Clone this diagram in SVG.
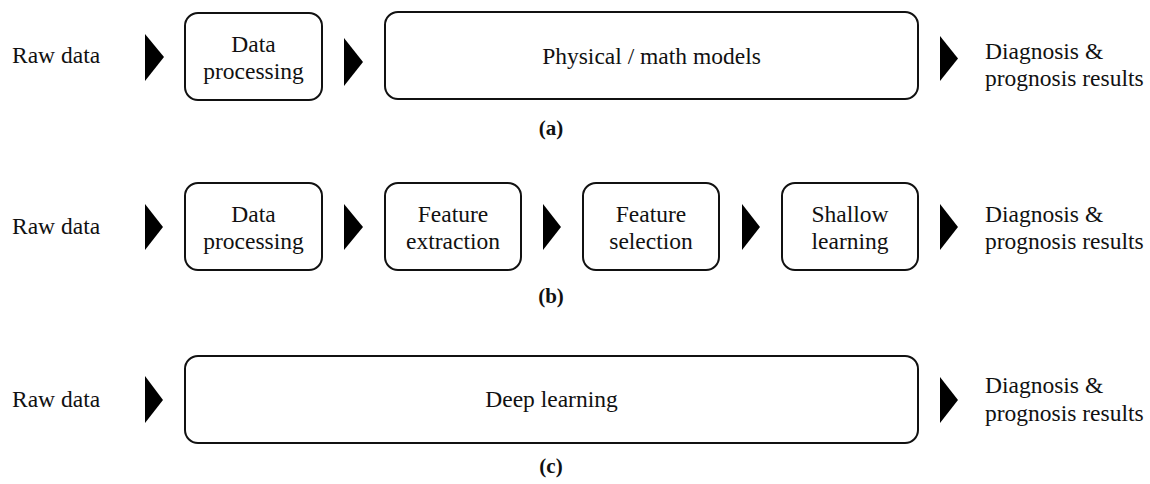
<svg xmlns="http://www.w3.org/2000/svg" width="1150" height="484" viewBox="0 0 1150 484" font-family="Liberation Serif, Tinos, Times New Roman, DejaVu Serif, serif">
<defs>
<style>
.t{font-size:23.5px;fill:#111}
.c{text-anchor:middle}
.lbl{font-size:21px;font-weight:bold;fill:#111;text-anchor:middle}
.box{fill:#fff;stroke:#111;stroke-width:2}
.arr{fill:#000}
</style>
</defs>
<rect width="1150" height="484" fill="#fff"/>

<!-- Row (a) -->
<g id="a-raw"><text class="t" x="12" y="63" font-family="Liberation Serif, serif">Raw data</text></g>
<g id="a-dp"><rect class="box" x="185" y="13" width="137" height="87" rx="13"/><text class="t c" x="253.5" y="52">Data</text><text class="t c" x="253.5" y="79">processing</text></g>
<g id="a-model"><rect class="box" x="385" y="12" width="533" height="87" rx="13"/><text class="t c" x="651.5" y="64">Physical / math models</text></g>
<g id="a-out"><text class="t" x="985" y="59">Diagnosis &amp;</text><text class="t" x="985" y="86">prognosis results</text></g>
<text class="lbl" x="551" y="135">(a)</text>

<!-- Row (b) -->
<g id="b-raw"><text class="t" x="12" y="234">Raw data</text></g>
<g id="b-dp"><rect class="box" x="185" y="183" width="137" height="87" rx="13"/><text class="t c" x="253.5" y="222">Data</text><text class="t c" x="253.5" y="249">processing</text></g>
<g id="b-fe"><rect class="box" x="385" y="183" width="136" height="87" rx="13"/><text class="t c" x="453" y="222">Feature</text><text class="t c" x="453" y="249">extraction</text></g>
<g id="b-fs"><rect class="box" x="583" y="183" width="136" height="87" rx="13"/><text class="t c" x="651" y="222">Feature</text><text class="t c" x="651" y="249">selection</text></g>
<g id="b-sl"><rect class="box" x="782" y="183" width="136" height="87" rx="13"/><text class="t c" x="850" y="222">Shallow</text><text class="t c" x="850" y="249">learning</text></g>
<g id="b-out"><text class="t" x="985" y="222">Diagnosis &amp;</text><text class="t" x="985" y="249">prognosis results</text></g>
<text class="lbl" x="551" y="303">(b)</text>

<!-- Row (c) -->
<g id="c-raw"><text class="t" x="12" y="407">Raw data</text></g>
<g id="c-dl"><rect class="box" x="185" y="356" width="733" height="87" rx="13"/><text class="t c" x="551.5" y="407">Deep learning</text></g>
<g id="c-out"><text class="t" x="985" y="393">Diagnosis &amp;</text><text class="t" x="985" y="421">prognosis results</text></g>
<text class="lbl" x="551" y="473">(c)</text>

<!-- Connectors -->
<g id="connectors">
<polygon class="arr" points="145,34 164,57 145,81"/>
<polygon class="arr" points="344,38 363,62 344,86"/>
<polygon class="arr" points="940,36 958,58.5 940,81"/>
<polygon class="arr" points="145,204 163,227 145,250"/>
<polygon class="arr" points="344,204 363,227 344,250"/>
<polygon class="arr" points="543,204 561,227 543,250"/>
<polygon class="arr" points="742,204 760,227 742,250"/>
<polygon class="arr" points="940,204 958,227 940,250"/>
<polygon class="arr" points="145,376 163,400 145,423"/>
<polygon class="arr" points="940,377 958,400 940,423"/>
</g>
</svg>
